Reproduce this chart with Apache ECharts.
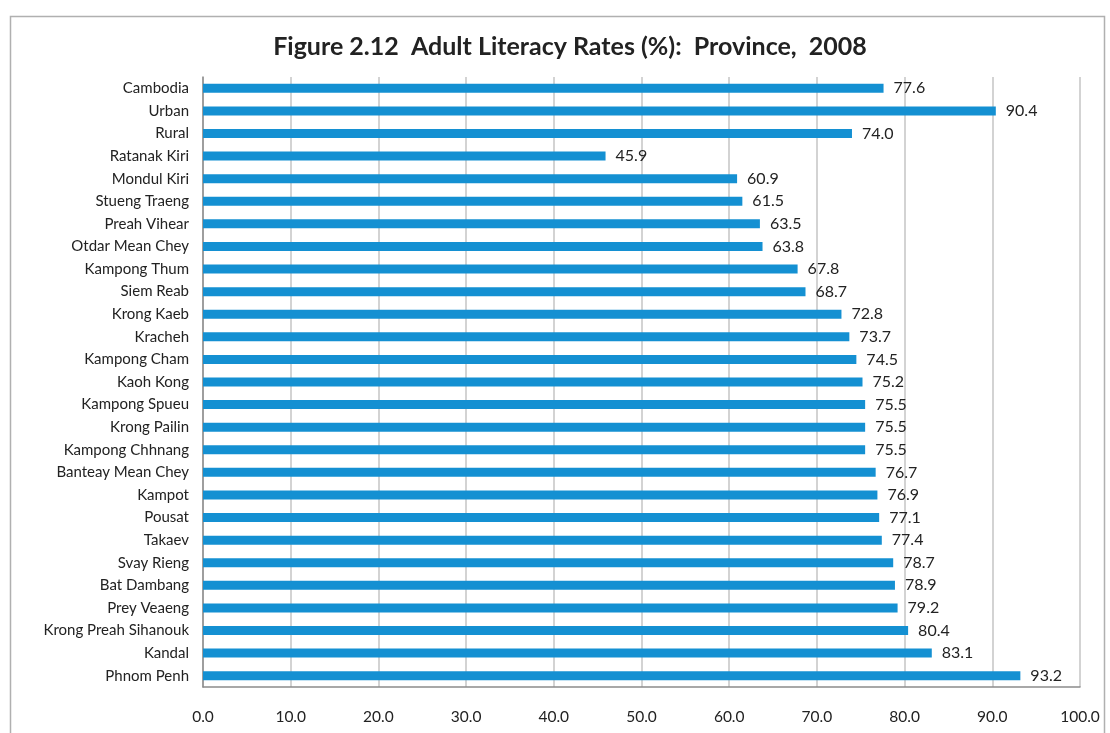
<!DOCTYPE html>
<html>
<head>
<meta charset="utf-8">
<script src="https://cdn.jsdelivr.net/npm/echarts@6/dist/echarts.min.js"></script>
<style>
html,body{margin:0;padding:0;background:#fff;}
#chart{width:1110px;height:733px;}
</style>
</head>
<body>
<div id="chart"></div>
<script>
const titleText = 'Figure 2.12  Adult Literacy Rates (%):  Province,  2008';
const categories = ['Cambodia','Urban','Rural','Ratanak Kiri','Mondul Kiri','Stueng Traeng','Preah Vihear','Otdar Mean Chey','Kampong Thum','Siem Reab','Krong Kaeb','Kracheh','Kampong Cham','Kaoh Kong','Kampong Spueu','Krong Pailin','Kampong Chhnang','Banteay Mean Chey','Kampot','Pousat','Takaev','Svay Rieng','Bat Dambang','Prey Veaeng','Krong Preah Sihanouk','Kandal','Phnom Penh'];
const literacy = [77.6,90.4,74.0,45.9,60.9,61.5,63.5,63.8,67.8,68.7,72.8,73.7,74.5,75.2,75.5,75.5,75.5,76.7,76.9,77.1,77.4,78.7,78.9,79.2,80.4,83.1,93.2];

const font = 'Lato, "Open Sans", sans-serif';
const chart = echarts.init(document.getElementById('chart'));
chart.setOption({
  animation: false,
  backgroundColor: '#fff',
  title: {
    text: titleText,
    left: 565, top: 29, textAlign: 'center',
    textStyle: {fontFamily: font, fontSize: 25, fontWeight: 'bold', color: '#222'}
  },
  graphic: [{
    type: 'rect', left: 8, top: 14, silent: true,
    shape: {width: 1094, height: 730},
    style: {fill: 'none', stroke: '#b0b0b0', lineWidth: 1.5}
  }],
  grid: {left: 203, right: 30, top: 77, bottom: 46},
  xAxis: {
    type: 'value', min: 0, max: 100, interval: 10,
    axisLine: {show: true, lineStyle: {color: '#8c8c8c', width: 1.5}},
    axisTick: {show: false},
    axisLabel: {formatter: v => v.toFixed(1), fontFamily: font, fontSize: 15.5, color: '#222', margin: 22},
    splitLine: {show: true, lineStyle: {color: '#c4c4c4', width: 1.5}}
  },
  yAxis: {
    type: 'category', data: categories, inverse: true,
    axisLine: {show: true, lineStyle: {color: '#8c8c8c', width: 1.5}},
    axisTick: {show: false},
    axisLabel: {fontFamily: font, fontSize: 15, color: '#222', margin: 14}
  },
  series: [{
    type: 'bar', data: literacy, barWidth: 9,
    itemStyle: {color: '#1490d2'},
    label: {show: true, position: 'right', distance: 10, formatter: p => p.value.toFixed(1),
      fontFamily: font, fontSize: 16, color: '#222'}
  }]
});
</script>
</body>
</html>
